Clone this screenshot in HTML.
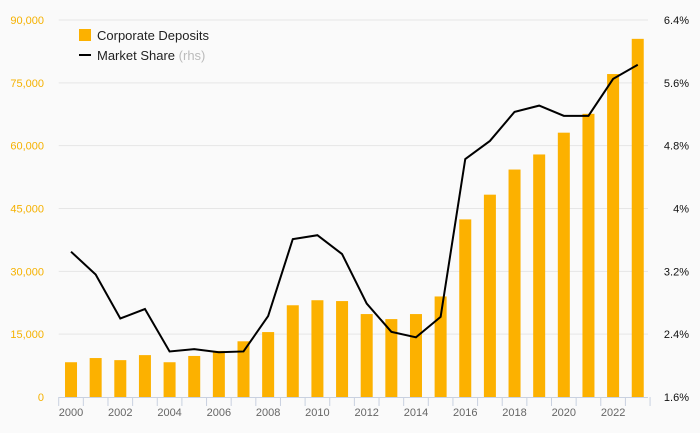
<!DOCTYPE html>
<html><head><meta charset="utf-8"><style>
body{margin:0;background:#fafafa;font-family:"Liberation Sans",sans-serif}
svg{display:block}
</style></head><body>
<svg id="c" width="700" height="433">
<rect width="700" height="433" fill="#fafafa"/>
</svg>
<script>
const years=[2000,2001,2002,2003,2004,2005,2006,2007,2008,2009,2010,2011,2012,2013,2014,2015,2016,2017,2018,2019,2020,2021,2022,2023];
const deposits=[8300,9300,8800,10000,8300,9800,11000,13300,15500,21900,23100,22900,19800,18600,19800,24000,42400,48300,54300,57900,63100,67600,77100,85500];
const share=[3.45,3.16,2.60,2.72,2.18,2.21,2.17,2.18,2.63,3.61,3.66,3.42,2.79,2.43,2.36,2.62,4.63,4.86,5.23,5.31,5.18,5.18,5.65,5.83];
const leftTicks=[0,15000,30000,45000,60000,75000,90000];
const leftLabels=["0","15,000","30,000","45,000","60,000","75,000","90,000"];
const rightTicks=[1.6,2.4,3.2,4.0,4.8,5.6,6.4];
const rightLabels=["1.6%","2.4%","3.2%","4%","4.8%","5.6%","6.4%"];
const NS="http://www.w3.org/2000/svg";
const svg=document.getElementById('c');
const x0=58.7,step=24.64,yTop=20,yBot=397;
const xC=i=>x0+step*(i+0.5);
const yL=v=>yBot-(v/90000)*(yBot-yTop);
const yR=v=>yBot-((v-1.6)/4.8)*(yBot-yTop);
function el(t,a,txt){const e=document.createElementNS(NS,t);for(const k in a)e.setAttribute(k,a[k]);if(txt!=null)e.textContent=txt;svg.appendChild(e);return e;}
leftTicks.forEach((v,i)=>{
 if(i>0){const g=el('line',{x1:x0,x2:648,y1:yL(v),y2:yL(v),stroke:'#e6e6e6','stroke-width':1});
 
 }
 const t=el('text',{x:44,y:yL(v)+4,'text-anchor':'end','font-size':11,fill:'#f5b100'},leftLabels[i]);
 
 
});
rightTicks.forEach((v,i)=>{
 const t=el('text',{x:689,y:yR(v)+4,'text-anchor':'end','font-size':11,fill:'#111'},rightLabels[i]);
 
 
});
deposits.forEach((v,i)=>{
 const b=el('rect',{x:xC(i)-6,y:yL(v),width:12,height:yBot-yL(v),fill:'#fcb100'});
 
 
});
const ax=el('line',{x1:x0,x2:648,y1:yBot+0.5,y2:yBot+0.5,stroke:'#c9d1e0'});


for(let i=0;i<=24;i++){const tk=el('line',{x1:x0+step*i,x2:x0+step*i,y1:yBot,y2:yBot+9,stroke:'#c9d1e0'});
 
 }
years.forEach((y,i)=>{if(i%2==0){const t=el('text',{x:xC(i),y:416,'text-anchor':'middle','font-size':11,fill:'#666'},y);
 
 }});
const ln=el('polyline',{points:share.map((v,i)=>xC(i)+','+yR(v)).join(' '),fill:'none',stroke:'#000','stroke-width':2});


const l1=el('rect',{x:79,y:29,width:12,height:12,fill:'#fcb100'});


const t1=el('text',{x:97,y:40,'font-size':13,fill:'#222'},'Corporate Deposits');


const l2=el('line',{x1:79,x2:91,y1:55,y2:55,stroke:'#000','stroke-width':2});


const t2=el('text',{x:97,y:60,'font-size':13,fill:'#222'},'Market Share ');


const ts=document.createElementNS(NS,'tspan');ts.setAttribute('fill','#bbb');ts.textContent='(rhs)';t2.appendChild(ts);
</script>
</body></html>
